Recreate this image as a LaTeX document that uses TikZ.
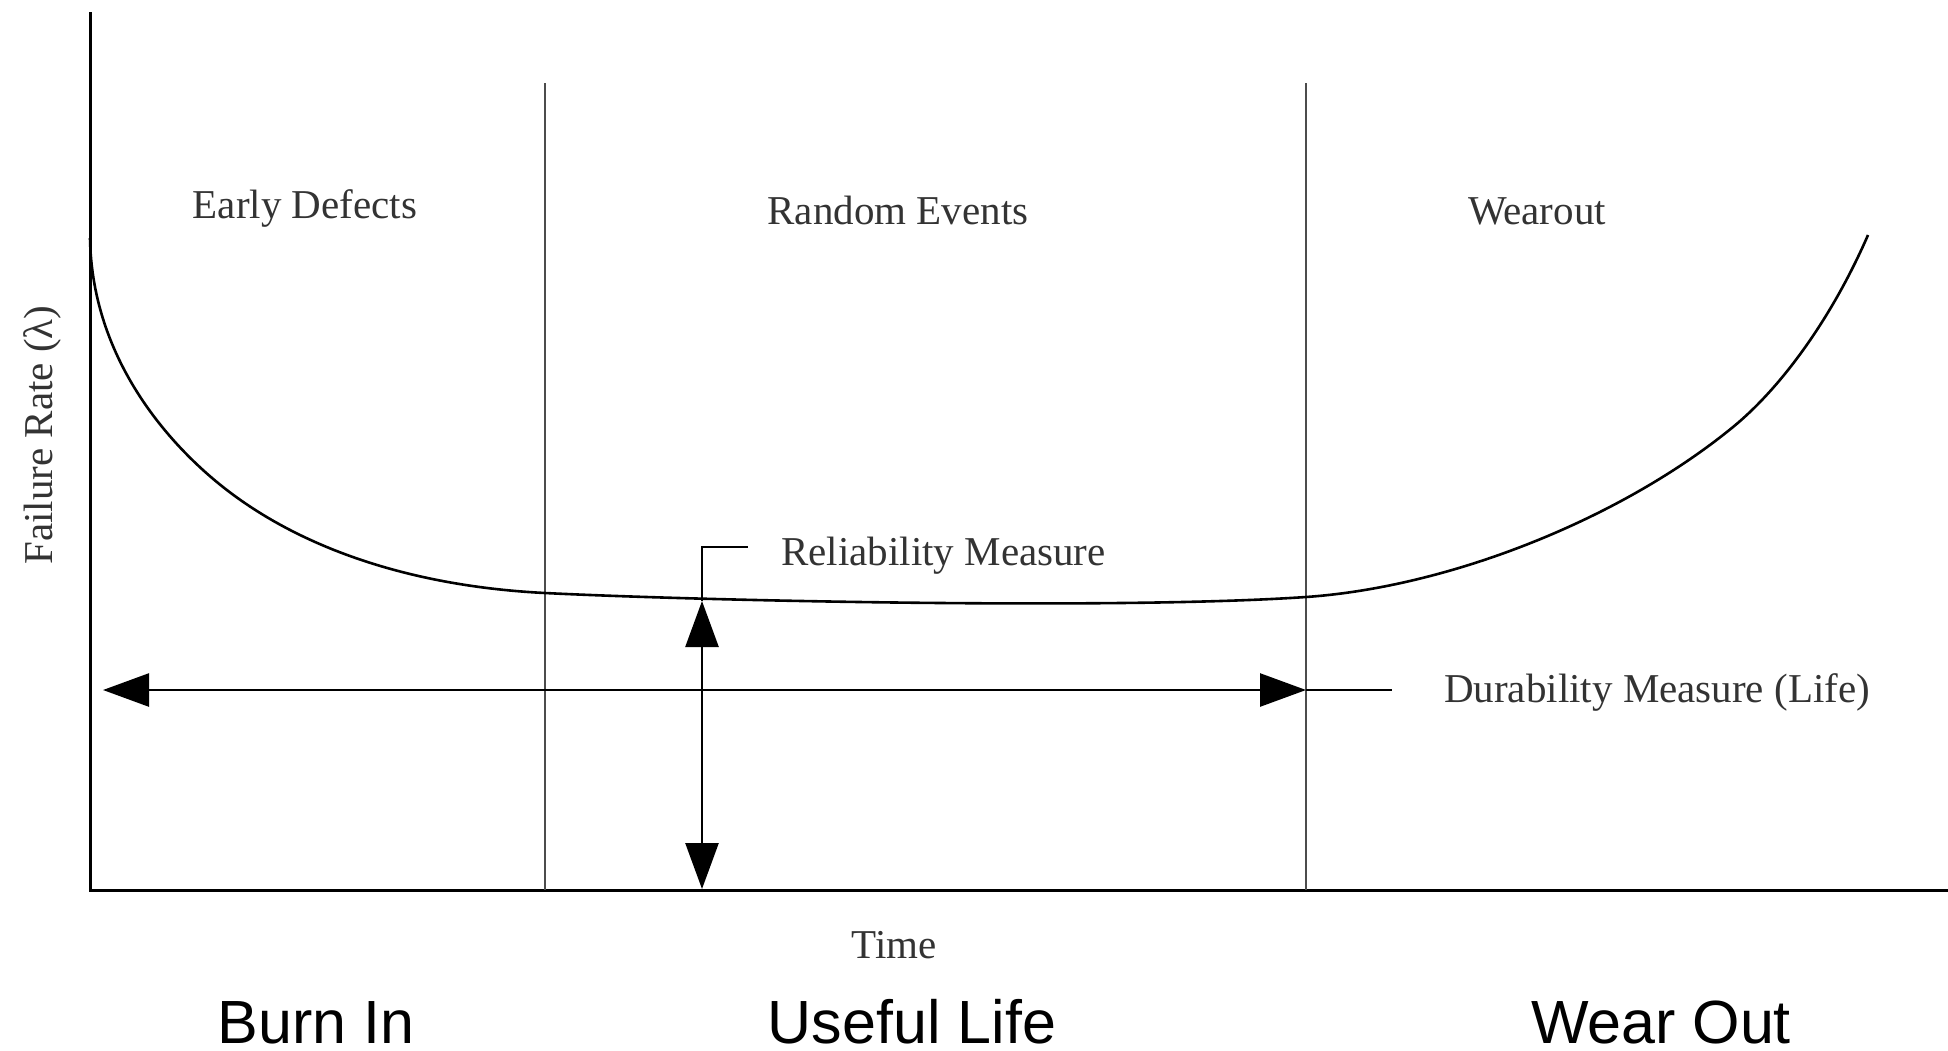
\documentclass[tikz,border=0pt]{standalone}
\usepackage{fontspec}
\setmainfont{Liberation Serif}
\setsansfont{Liberation Sans}
\usetikzlibrary{arrows.meta}

\begin{document}
\begin{tikzpicture}[x=1pt,y=-1pt,
  axisline/.style={line width=3pt,black},
  phaseline/.style={line width=2.2pt,black!70},
  rateline/.style={line width=2.6pt,black},
  measure/.style={line width=2.6pt,black},
  bothtips/.style={{Triangle[length=46pt,width=33pt]}-{Triangle[length=46pt,width=33pt]}},
  serlabel/.style={font=\fontsize{41}{41}\selectfont,text=black!80,inner sep=0pt},
  phaselabel/.style={font=\sffamily\fontsize{61}{61}\selectfont,text=black,inner sep=0pt,text depth=0pt}]

\useasboundingbox (0,0) rectangle (1948,1050);

% axes
\coordinate (origin) at (90,890);
\coordinate (ytop) at (90,12);
\coordinate (xend) at (1948,890);
\draw[axisline] (ytop) -- (origin) -- (xend);

% phase boundaries
\coordinate (b1top) at (545,83);
\coordinate (b1bot) at (545,890);
\coordinate (b2top) at (1306,83);
\coordinate (b2bot) at (1306,890);
\draw[phaseline] (b1top) -- (b1bot);
\draw[phaseline] (b2top) -- (b2bot);

% bathtub curve: early decay, flat bottom, wear-out rise
\draw[rateline]
  (90,238) .. controls (92,360) and (170,445) .. (223,487)
           .. controls (303,550.2) and (415,586.5) .. (545,593)
           .. controls (695,600.5) and (1116,610) .. (1306,597)
           .. controls (1450,587) and (1621,518.8) .. (1733,427)
           .. controls (1783,386) and (1833,315.5) .. (1868,235);

% reliability measure
\coordinate (relTop) at (702,601);
\coordinate (relBot) at (702,889);
\coordinate (relCorner) at (702,547);
\coordinate (relEnd) at (748,547);
\draw[measure,bothtips] (relTop) -- (relBot);
\draw[measure] (relTop) -- (relCorner) -- (relEnd);

% durability measure
\coordinate (durL) at (103,690);
\coordinate (durR) at (1306,690);
\coordinate (durEnd) at (1392,690);
\draw[measure,bothtips] (durL) -- (durR);
\draw[measure] (durR) -- (durEnd);

% labels
\node[serlabel,anchor=base] (early) at (305,218) {Early Defects};
\node[serlabel,anchor=base] (random) at (898,224) {Random Events};
\node[serlabel,anchor=base] (wear) at (1537,224) {Wearout};
\node[serlabel,anchor=base west] (rel) at (781,565) {Reliability Measure};
\node[serlabel,anchor=base west] (dur) at (1444,702) {Durability Measure (Life)};
\node[serlabel,anchor=base] (time) at (894,958) {Time};
\node[serlabel,anchor=base,rotate=90] (rate) at (52,435) {Failure Rate (λ)};

\node[phaselabel,anchor=base] (burn) at (316,1043) {Burn In};
\node[phaselabel,anchor=base] (useful) at (912,1043) {Useful Life};
\node[phaselabel,anchor=base] (wearout) at (1661,1043) {Wear Out};
\end{tikzpicture}
\end{document}
